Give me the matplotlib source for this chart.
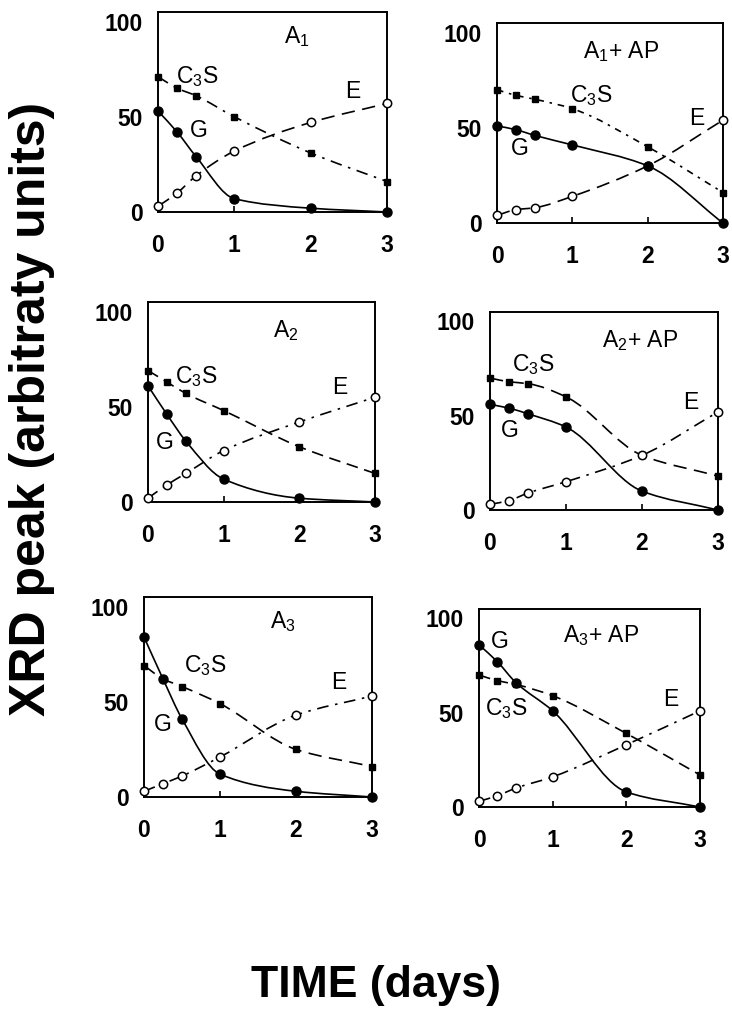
import matplotlib
matplotlib.use("Agg")
import matplotlib.pyplot as plt
from matplotlib.path import Path
from matplotlib.patches import PathPatch

plt.rcParams['font.family'] = ['Liberation Sans', 'DejaVu Sans']
plt.rcParams['mathtext.fontset'] = 'custom'
plt.rcParams['mathtext.rm'] = 'Liberation Sans'
plt.rcParams['mathtext.default'] = 'rm'

t = [0, 0.25, 0.5, 1, 2, 3]

titles = ["A$_1$", "A$_1$+ AP", "A$_2$", "A$_2$+ AP", "A$_3$", "A$_3$+ AP"]

c3s_a1 = [71, 65, 61, 50, 31, 16]
g_a1 = [53, 42, 29, 7, 2, 0]
e_a1 = [3, 10, 19, 32, 47, 57]

c3s_a1ap = [70, 67, 65, 60, 40, 16]
g_a1ap = [51, 49, 46, 41, 30, 0]
e_a1ap = [4, 7, 8, 14, 30, 54]

c3s_a2 = [69, 63, 57, 48, 29, 15]
g_a2 = [61, 46, 32, 12, 2, 0]
e_a2 = [2, 9, 15, 27, 42, 55]

c3s_a2ap = [70, 68, 67, 60, 29, 18]
g_a2ap = [56, 54, 51, 44, 10, 0]
e_a2ap = [3, 5, 9, 15, 29, 52]

c3s_a3 = [69, 62, 58, 49, 25, 16]
g_a3 = [84, 62, 41, 12, 3, 0]
e_a3 = [3, 7, 11, 21, 43, 53]

c3s_a3ap = [70, 67, 65, 59, 39, 17]
g_a3ap = [86, 77, 66, 51, 8, 0]
e_a3ap = [3, 6, 10, 16, 33, 51]

c3s_all = [c3s_a1, c3s_a1ap, c3s_a2, c3s_a2ap, c3s_a3, c3s_a3ap]
g_all = [g_a1, g_a1ap, g_a2, g_a2ap, g_a3, g_a3ap]
e_all = [e_a1, e_a1ap, e_a2, e_a2ap, e_a3, e_a3ap]

# label positions (x, y) in data units: title, C3S, G, E
title_pos = [(1.82, 92), (1.65, 90), (1.82, 90), (1.98, 90), (1.83, 92), (1.66, 91)]
c3s_pos = [(0.52, 71), (1.25, 67), (0.64, 66), (0.57, 77), (0.8, 69), (0.37, 52)]
g_pos = [(0.53, 43), (0.3, 39), (0.22, 31), (0.26, 42), (0.25, 38), (0.28, 88)]
e_pos = [(2.55, 63), (2.65, 55), (2.53, 60), (2.64, 57), (2.56, 60), (2.6, 57)]

# axes boxes in pixels: left, bottom(from top), width, height
boxes = [(158, 212, 229, 200), (497, 223, 226, 200),
         (148, 502, 227, 200), (490, 510, 228, 198),
         (144, 797, 228, 200), (479, 807, 221, 198)]

dashdot = (0, (7, 4, 1.5, 4))
dashdot_short = (0, (4, 3.5, 1.5, 3.5))
dashed = (0, (7, 4))
dashed_long = (0, (8, 4.5))
c3s_style = [dashdot, dashdot_short, dashed, dashed_long, dashed_long, dashed]
e_style = [dashed_long, dashed_long, dashdot, dashdot, dashdot, dashdot]

W, H = 732, 1016


def smooth(ax, x, y, ls):
    # monotone cubic hermite drawn as bezier path
    n = len(x)
    h = [x[i+1]-x[i] for i in range(n-1)]
    s = [(y[i+1]-y[i])/h[i] for i in range(n-1)]
    d = [0.0]*n
    d[0] = s[0]
    d[-1] = s[-1]
    for k in range(1, n-1):
        if s[k-1]*s[k] <= 0:
            d[k] = 0.0
        else:
            w1 = 2*h[k]+h[k-1]
            w2 = h[k]+2*h[k-1]
            d[k] = (w1+w2)/(w1/s[k-1]+w2/s[k])
    verts = [(x[0], y[0])]
    codes = [Path.MOVETO]
    for k in range(n-1):
        verts += [(x[k]+h[k]/3, y[k]+d[k]*h[k]/3),
                  (x[k+1]-h[k]/3, y[k+1]-d[k+1]*h[k]/3),
                  (x[k+1], y[k+1])]
        codes += [Path.CURVE4]*3
    ax.add_patch(PathPatch(Path(verts, codes), fill=False, lw=1.2,
                           ls=ls, edgecolor='black', clip_on=False))


fig = plt.figure(figsize=(W/100, H/100), dpi=100)

for i in range(6):
    l, b, w, hh = boxes[i]
    ax = fig.add_axes([l/W, 1-b/H, w/W, hh/H])
    ax.set_xlim(0, 3)
    ax.set_ylim(0, 105)

    smooth(ax, t, c3s_all[i], c3s_style[i])
    smooth(ax, t, e_all[i], e_style[i])
    smooth(ax, t, g_all[i], '-')

    ax.plot(t, c3s_all[i], ls='none', marker='s', ms=5, color='black',
            clip_on=False, zorder=4)
    ax.plot(t, e_all[i], ls='none', marker='o', ms=6, mfc='white',
            mec='black', mew=1.1, clip_on=False, zorder=4)
    ax.plot(t, g_all[i], ls='none', marker='o', ms=6.5, color='black',
            clip_on=False, zorder=5)

    ax.text(*title_pos[i], titles[i], fontsize=16.5, ha='center', va='center')
    ax.text(*c3s_pos[i], "C$_3$S", fontsize=16.5, ha='center', va='center')
    ax.text(*g_pos[i], "G", fontsize=16.5, ha='center', va='center')
    ax.text(*e_pos[i], "E", fontsize=16.5, ha='center', va='center')

    ax.set_xticks([0, 1, 2, 3])
    ax.set_yticks([0, 50, 100])
    ax.tick_params(axis='x', direction='in', length=4, width=1.2, pad=16,
                   labelsize=16.5)
    ax.tick_params(axis='y', length=0, pad=11, labelsize=16.5)
    for lab in ax.get_xticklabels() + ax.get_yticklabels():
        lab.set_fontweight('bold')
    for sp in ax.spines.values():
        sp.set_linewidth(1.4)

fig.text(32/W, 1-409/H, "XRD peak (arbitraty units)", rotation=90,
         fontsize=36, fontweight='bold', ha='center', va='center')
fig.text(376/W, 1-986/H, "TIME (days)", fontsize=32, fontweight='bold',
         ha='center', va='center')

plt.savefig("out.png", dpi=100)
